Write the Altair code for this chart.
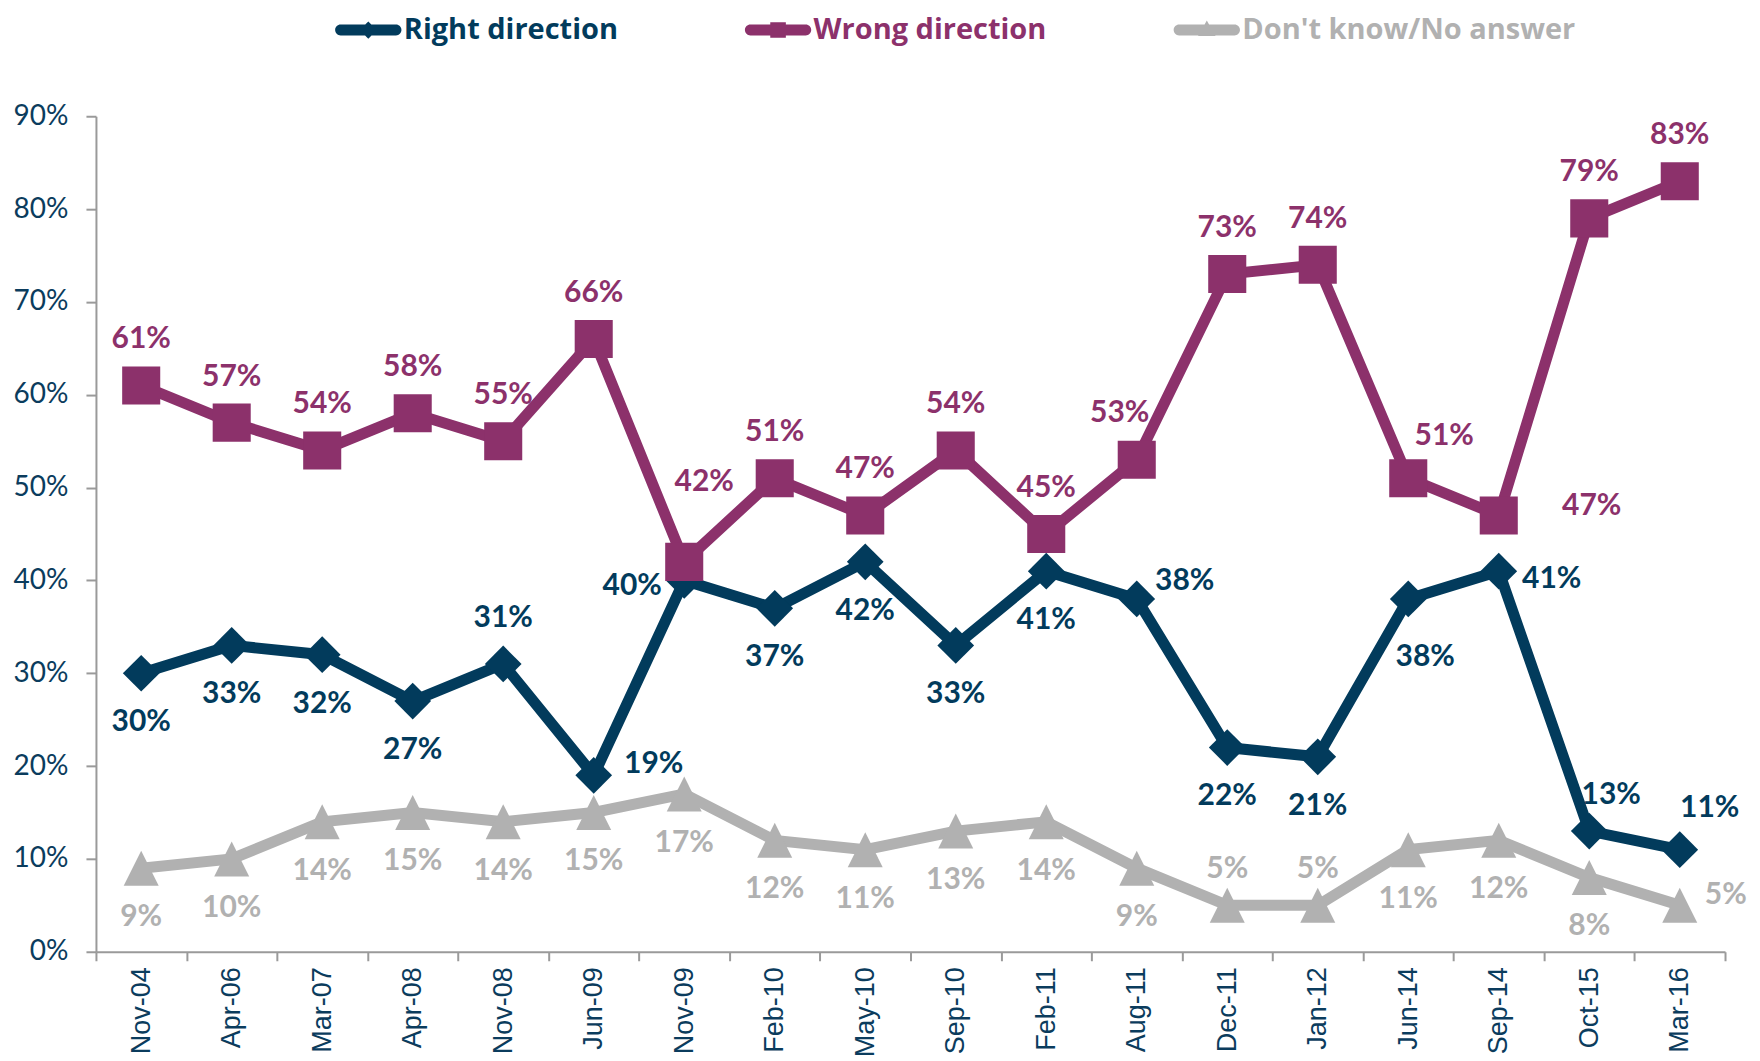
import altair as alt
import pandas as pd

dates = ["Nov-04", "Apr-06", "Mar-07", "Apr-08", "Nov-08", "Jun-09", "Nov-09", "Feb-10",
         "May-10", "Sep-10", "Feb-11", "Aug-11", "Dec-11", "Jan-12", "Jun-14", "Sep-14",
         "Oct-15", "Mar-16"]
series_names = ["Right direction", "Wrong direction", "Don't know/No answer"]
right = [30, 33, 32, 27, 31, 19, 40, 37, 42, 33, 41, 38, 22, 21, 38, 41, 13, 11]
wrong = [61, 57, 54, 58, 55, 66, 42, 51, 47, 54, 45, 53, 73, 74, 51, 47, 79, 83]
dk = [9, 10, 14, 15, 14, 15, 17, 12, 11, 13, 14, 9, 5, 5, 11, 12, 8, 5]

# label placement (annotation side) for each point
right_pos = ["below", "below", "below", "below", "above", "right", "left", "below", "below",
             "below", "below", "rightup", "below", "below", "belowright", "rightdown", "upright", "upright2"]
wrong_pos = ["above", "above", "above", "above", "above", "above", "highright", "above", "above",
             "above", "above", "aboveleft", "above", "above", "upright3", "farright", "above", "above"]
dk_pos = ["below", "below", "below", "below", "below", "below", "below", "below", "below",
          "below", "below", "below", "abovenear", "abovenear", "below", "below", "below", "right2"]

colors = ["#023b5c", "#8c316b", "#b1b1b1"]
navy = "#0b3c5d"

rows = []
for name, vals, poss in zip(series_names, [right, wrong, dk], [right_pos, wrong_pos, dk_pos]):
    for d, v, p in zip(dates, vals, poss):
        rows.append({"date": d, "series": name, "value": v / 100.0, "pos": p})
df = pd.DataFrame(rows)

offsets = {
    "above": (0, -46),
    "abovenear": (0, -36),
    "aboveleft": (-17, -47),
    "below": (0, 49),
    "belowright": (17, 58),
    "right": (60, -11),
    "rightup": (48, -18),
    "rightdown": (53, 8),
    "right2": (46, -10),
    "left": (-52, 6),
    "upright": (22, -36),
    "upright2": (30, -42),
    "upright3": (36, -42),
    "highright": (20, -80),
    "farright": (93, -9),
}

label_font = "Lato"
xenc = alt.X("date:N", sort=dates,
             scale=alt.Scale(type="band", paddingInner=0, paddingOuter=0),
             axis=alt.Axis(title=None, labelAngle=270, tickBand="extent", tickSize=9,
                           labelFontSize=27, labelColor=navy, labelFont="Liberation Sans",
                           labelPadding=6, domainColor="#9a9a9a", tickColor="#9a9a9a",
                           domainWidth=2, tickWidth=2))
yenc = alt.Y("value:Q",
             scale=alt.Scale(domain=[0, 0.9], nice=False),
             axis=alt.Axis(title=None, values=[i / 10 for i in range(10)], format=".0%",
                           labelFontSize=28, labelColor=navy, labelFont=label_font,
                           tickSize=10, labelPadding=18, grid=False,
                           domainColor="#9a9a9a", tickColor="#9a9a9a",
                           domainWidth=2, tickWidth=2))
cscale = alt.Scale(domain=series_names, range=colors)

legend = alt.Legend(title=None, orient="none", direction="horizontal",
                    legendX=258, legendY=-101, symbolSize=300,
                    labelOffset=21, columnPadding=126, labelLimit=0,
                    labelFontSize=29, labelFont="Open Sans",
                    labelFontWeight="bold", symbolStrokeWidth=0,
                    labelColor={"expr": "scale('color', datum.label)"})
color_enc = alt.Color("series:N", scale=cscale, legend=legend)

base = alt.Chart(df)

lines = base.mark_line(strokeWidth=11).encode(
    x=xenc, y=yenc, color=color_enc, detail="series:N")

shapes = ["diamond", "square", "M0,-1L1,1L-1,1Z"]
sizes = [1350, 1450, 1225]
points = []
for name, shp, sz, col in zip(series_names, shapes, sizes, colors):
    points.append(base.transform_filter(alt.datum.series == name).mark_point(
        shape=shp, size=sz, filled=True, opacity=1, color=col).encode(x=xenc, y=yenc))

texts = []
for code, (dx, dy) in offsets.items():
    texts.append(base.transform_filter(alt.datum.pos == code).mark_text(
        dx=dx, dy=dy, fontSize=30, fontWeight="bold", font=label_font, baseline="middle").encode(
        x=xenc, y=yenc, text=alt.Text("value:Q", format=".0%"), color=color_enc))

bar = "M-3.2,-0.63L3.2,-0.63A0.63,0.63 0 0 1 3.2,0.63L-3.2,0.63A0.63,0.63 0 0 1 -3.2,-0.63Z "
legend_shapes = [
    bar + "M0,-1L1,0L0,1L-1,0Z",
    bar + "M-0.9,-0.9L0.9,-0.9L0.9,0.9L-0.9,0.9Z",
    bar + "M0,-1.1L1,0.7L-1,0.7Z",
]
legend_layer = base.transform_filter("false").mark_point(filled=True, opacity=1).encode(
    x=xenc, y=yenc, color=color_enc,
    shape=alt.Shape("series:N", scale=alt.Scale(domain=series_names, range=legend_shapes),
                    legend=legend))

chart = alt.layer(lines, *points, *texts, legend_layer).properties(
    width=1630, height=836, padding={"left": 5, "top": 7, "right": 5, "bottom": 0}
).configure_view(stroke=None)

chart.save("out.html", embed_options={"renderer": "svg", "actions": False})
